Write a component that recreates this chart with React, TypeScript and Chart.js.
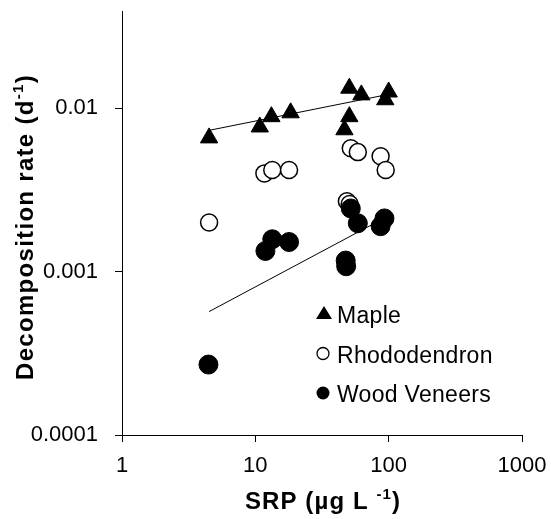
import React, { useEffect, useRef } from "react";
import { Chart, registerables } from "chart.js";
Chart.register(...registerables);

const mapleX = [4.5, 10.8, 13.2, 18.4, 50.7, 62.4, 50.7, 46.6, 100, 94.3];
const mapleY = [0.0066, 0.0077, 0.0089, 0.0094, 0.0133, 0.0121, 0.0089, 0.0074, 0.0126, 0.0113];
const rhodoX = [4.5, 11.7, 13.4, 17.9, 48.6, 51, 52, 58.7, 87, 95];
const rhodoY = [0.002, 0.004, 0.0042, 0.0042, 0.0027, 0.0026, 0.0057, 0.0054, 0.0051, 0.0042];
const woodX = [4.45, 11.9, 13.4, 17.9, 47.6, 48, 52, 58.7, 87, 93];
const woodY = [0.00027, 0.00134, 0.00158, 0.00152, 0.00117, 0.00108, 0.00244, 0.00198, 0.0019, 0.00212];
const mapleTrendX = [4.5, 100];
const mapleTrendY = [0.00734, 0.0122];
const woodTrendX = [4.5, 100];
const woodTrendY = [0.00057, 0.0022];
const xTicks = [1, 10, 100, 1000];
const xTickLabels = ["1", "10", "100", "1000"];
const yTicks = [0.0001, 0.001, 0.01];
const yTickLabels = ["0.0001", "0.001", "0.01"];
const seriesNames = ["Maple", "Rhododendron", "Wood Veneers"];

const FONT = "'Liberation Sans', Arial, sans-serif";

const pts = (xs: number[], ys: number[]) => xs.map((x, i) => ({ x, y: ys[i] }));

function drawWithSup(ctx: any, parts: { t: string; sup?: boolean }[], size: number, spacing: number, cx: number, cy: number) {
  const main = `bold ${size}px ${FONT}`;
  const sup = `bold ${Math.round(size * 0.62)}px ${FONT}`;
  ctx.letterSpacing = `${spacing}px`;
  let total = 0;
  const widths = parts.map((p) => {
    ctx.font = p.sup ? sup : main;
    const w = ctx.measureText(p.t).width;
    total += w;
    return w;
  });
  let x = cx - total / 2;
  ctx.textBaseline = "alphabetic";
  ctx.textAlign = "left";
  parts.forEach((p, i) => {
    ctx.font = p.sup ? sup : main;
    ctx.fillText(p.t, x, p.sup ? cy - size * 0.4 : cy);
    x += widths[i];
  });
  ctx.letterSpacing = "0px";
}

const overlayPlugin = {
  id: "overlay",
  afterDraw(chart: any) {
    const ctx: any = chart.ctx;
    ctx.save();
    ctx.fillStyle = "#000";
    drawWithSup(ctx, [{ t: "SRP (µg L " }, { t: "-1", sup: true }, { t: ")" }], 24, 1.1, 323, 509);
    ctx.save();
    ctx.translate(33, 227);
    ctx.rotate(-Math.PI / 2);
    drawWithSup(ctx, [{ t: "Decomposition rate (d" }, { t: "-1", sup: true }, { t: ")" }], 24, 1.3, 0, 0);
    ctx.restore();
    const lx = 324;
    const tx = 337;
    const base = [323, 362.5, 402];
    ctx.font = `23px ${FONT}`;
    ctx.letterSpacing = "0.3px";
    ctx.textAlign = "left";
    ctx.textBaseline = "alphabetic";
    seriesNames.forEach((n, i) => ctx.fillText(n, tx, base[i]));
    ctx.letterSpacing = "0px";
    ctx.beginPath();
    ctx.moveTo(lx, base[0] - 17);
    ctx.lineTo(lx + 8, base[0] - 4);
    ctx.lineTo(lx - 8, base[0] - 4);
    ctx.closePath();
    ctx.fill();
    ctx.beginPath();
    ctx.arc(lx - 1, base[1] - 9, 6, 0, Math.PI * 2);
    ctx.fillStyle = "#fff";
    ctx.fill();
    ctx.lineWidth = 1.3;
    ctx.strokeStyle = "#000";
    ctx.stroke();
    ctx.beginPath();
    ctx.arc(lx - 1, base[2] - 9, 6.5, 0, Math.PI * 2);
    ctx.fillStyle = "#000";
    ctx.fill();
    ctx.restore();
  },
};

const zeroPad = (s: any) => {
  s.paddingTop = 0;
  s.paddingBottom = 0;
  s.paddingLeft = 0;
  s.paddingRight = 0;
};

export default function App() {
  const ref = useRef<HTMLCanvasElement>(null);
  useEffect(() => {
    document.body.style.margin = "0";
    const chart = new Chart(ref.current!, {
      type: "scatter",
      data: {
        datasets: [
          { label: "Maple trend", data: pts(mapleTrendX, mapleTrendY), showLine: true, pointRadius: 0, borderColor: "#000", borderWidth: 1, order: 10 },
          { label: "Wood trend", data: pts(woodTrendX, woodTrendY), showLine: true, pointRadius: 0, borderColor: "#000", borderWidth: 1, order: 10 },
          { label: seriesNames[1], data: pts(rhodoX, rhodoY), pointStyle: "circle", pointRadius: 8.5, backgroundColor: "#fff", borderColor: "#000", borderWidth: 1.5, order: 3 },
          { label: seriesNames[2], data: pts(woodX, woodY), pointStyle: "circle", pointRadius: 9.5, backgroundColor: "#000", borderColor: "#000", borderWidth: 1, order: 2 },
          { label: seriesNames[0], data: pts(mapleX, mapleY), pointStyle: "triangle", pointRadius: 10, backgroundColor: "#000", borderColor: "#000", borderWidth: 1, order: 1 },
        ],
      },
      options: {
        animation: false,
        responsive: false,
        devicePixelRatio: 1,
        layout: { padding: { top: 8, right: 29, left: 0, bottom: 0 } },
        plugins: { legend: { display: false }, tooltip: { enabled: false } },
        scales: {
          x: {
            type: "logarithmic",
            position: "bottom",
            min: 1,
            max: 1000,
            afterBuildTicks: (s: any) => {
              s.ticks = xTicks.map((v) => ({ value: v }));
            },
            afterFit: (s: any) => {
              s.height = 84;
              zeroPad(s);
            },
            ticks: {
              autoSkip: false,
              maxRotation: 0,
              padding: 11,
              color: "#000",
              font: { family: FONT, size: 22 },
              callback: (_v: any, i: number) => xTickLabels[i],
            },
            grid: { display: true, drawOnChartArea: false, drawTicks: true, tickLength: 7, color: "#000", lineWidth: 1 },
            border: { display: true, color: "#000", width: 1 },
          },
          y: {
            type: "logarithmic",
            position: "left",
            min: 0.0001,
            max: 0.0395,
            afterBuildTicks: (s: any) => {
              s.ticks = yTicks.map((v) => ({ value: v }));
            },
            afterFit: (s: any) => {
              s.width = 122;
              zeroPad(s);
            },
            ticks: {
              autoSkip: false,
              padding: 17,
              color: "#000",
              font: { family: FONT, size: 22 },
              callback: (_v: any, i: number) => yTickLabels[i],
            },
            grid: { display: true, drawOnChartArea: false, drawTicks: true, tickLength: 7, color: "#000", lineWidth: 1 },
            border: { display: true, color: "#000", width: 1 },
          },
        },
      } as any,
      plugins: [overlayPlugin],
    });
    return () => chart.destroy();
  }, []);
  return (
    <div style={{ width: 551, height: 519 }}>
      <canvas ref={ref} width={551} height={519} />
    </div>
  );
}
